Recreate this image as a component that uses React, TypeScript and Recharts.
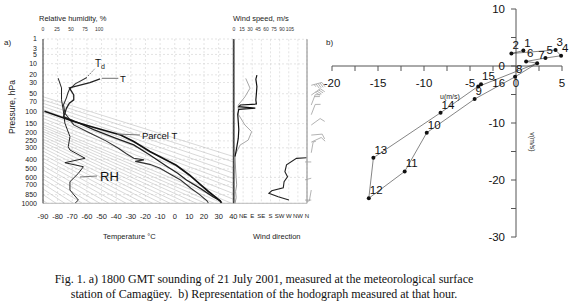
import React from 'react';
import {
  CartesianGrid,
  ComposedChart,
  Line,
  ReferenceLine,
  Scatter,
  XAxis,
  YAxis,
} from 'recharts';

const FONT = '"Liberation Sans", Arial, Helvetica, sans-serif';
const SERIF = '"Liberation Serif", "Times New Roman", serif';

// Stuve-type pressure axis: height ~ p^0.286
const KAPPA = 0.286;
const sOf = (p: number) => Math.pow(p, KAPPA);
const S_TOP = sOf(1);
const S_BOT = sOf(1000);

const pressureTicks = [1, 3, 5, 10, 20, 30, 50, 70, 100, 150, 200, 250, 300, 400, 500, 600, 700, 850, 1000];
const tempTicks = [-90, -80, -70, -60, -50, -40, -30, -20, -10, 0, 10, 20, 30, 40];
const rhTicks = [0, 25, 50, 75, 100];
const speedTicks = [0, 15, 30, 45, 60, 75, 90, 105];
const dirTicks = [45, 90, 135, 180, 225, 270, 315, 360];
const dirLabels = ['NE', 'E', 'SE', 'S', 'SW', 'W', 'NW', 'N'];

// [pressure hPa, temperature °C]
const envTemp = [
  [25, -51], [30, -58], [39, -72], [53, -69], [65, -69], [74, -72], [90, -74], [106, -75],
  [120, -76], [150, -65], [183, -55], [230, -41], [279, -28], [360, -17], [475, -5],
  [550, 2], [634, 8], [760, 18], [885, 26], [955, 31], [1000, 32],
];
const dewPoint = [
  [23, -60], [32, -68], [42, -72], [49, -73], [60, -74], [79, -76], [107, -75], [130, -72],
  [157, -69], [200, -58], [250, -47], [300, -39], [350, -33], [390, -28], [405, -21],
  [420, -27], [450, -17], [492, -10], [560, -3], [634, 4], [750, 11], [850, 17], [955, 22], [1000, 23],
];
const parcelTemp = [
  [100, -89], [141, -69], [170, -55], [212, -37], [254, -28], [330, -17], [460, 1],
  [570, 10], [686, 17], [800, 23], [955, 31], [1000, 32],
];
// [pressure hPa, relative humidity %]
const relHum = [
  [24, 27], [39, 33], [65, 33], [95, 36], [149, 39], [222, 48], [292, 45], [318, 48],
  [390, 75], [433, 39], [475, 72], [550, 63], [657, 48], [777, 48], [942, 63], [1000, 57],
];
// [pressure hPa, wind speed m/s]
const windSpeedUpper = [
  [20, 43], [25, 41], [36, 43], [50, 42], [65, 41], [76, 42], [79, 12], [84, 9], [89, 40],
  [93, 9], [110, 7], [141, 8], [180, 9], [233, 8], [300, 5], [375, 2],
];
const windSpeedLower = [[375, 2], [500, 3], [600, 4], [700, 5], [800, 3], [900, 4], [1000, 2]];
// [pressure hPa, wind direction deg]
const windDirUpper = [
  [24, 58], [39, 79], [57, 54], [79, 21], [110, 21], [157, 54], [192, 87], [244, 70], [279, 30], [360, 5],
];
const windDirLower = [
  [385, 357], [390, 308], [455, 259], [531, 251], [592, 264], [657, 247], [742, 243],
  [788, 186], [829, 172], [885, 218], [942, 271],
];
// barbs: pressure, speed m/s, direction deg
const barbP = [34, 53, 79, 112, 157, 212, 258, 340, 425, 610, 777, 942];
const barbSpd = [43, 42, 21, 8, 8, 10, 8, 5, 3, 4, 4, 2];
const barbDir = [75, 55, 21, 21, 54, 85, 65, 10, 270, 255, 190, 270];

// potential temperatures (K) of the background dry adiabats
const adiabatTheta = [
  186, 192, 198, 204, 210, 216, 222, 228, 234, 240, 246, 252, 258, 264, 270, 276, 282, 288,
  294, 300, 306, 312, 320, 330, 340, 350, 360, 372, 385, 400, 415,
];

// hodograph, m/s
const hodoLabels = ['1', '2', '3', '4', '5', '6', '7', '8', '9', '10', '11', '12', '13', '14', '15', '16'];
const hodoU = [0.8, -0.5, 4.3, 4.9, 3.2, 1.1, 2.3, -0.1, -4.5, -9.7, -12.1, -16.0, -15.5, -8.2, -3.8, -4.1];
const hodoV = [2.7, 2.2, 2.8, 1.8, 1.4, 0.8, 0.5, -1.9, -5.8, -11.7, -18.5, -23.2, -16.1, -8.2, -3.2, -3.6];
const hodoUTicks = [-20, -17.5, -15, -12.5, -10, -7.5, -5, -2.5, 0, 2.5, 5];
const hodoVTicks = [10, 5, 0, -5, -10, -15, -20, -25, -30];

const rows = (list: number[][], key: string) => list.map(([p, v]) => ({ s: sOf(p), [key]: v }));

const tempRows = rows(envTemp, 't');
const dewRows = rows(dewPoint, 't');
const parcelRows = rows(parcelTemp, 't');
const rhRows = rows(relHum, 'rh');
const spdUpRows = rows(windSpeedUpper, 'sp');
const spdLowRows = rows(windSpeedLower, 'sp');
const dirUpRows = rows(windDirUpper, 'dr');
const dirLowRows = rows(windDirLower, 'dr');
const barbRows = barbP.map((p, i) => ({ x: 0.25, s: sOf(p), spd: barbSpd[i], dir: barbDir[i] }));
const sTicks = pressureTicks.map(sOf);

const hodoRows = hodoLabels.map((n, i) => ({ n, u: hodoU[i], v: hodoV[i] }));
const hodoClose = [hodoRows[15], hodoRows[6]];
const uTickRows = hodoUTicks.map((u) => ({ u, v: 0, label: u % 5 === 0 ? String(u) : '' }));
const vTickRows = hodoVTicks.map((v) => ({ u: 0, v, label: v % 10 === 0 ? String(v) : '' }));

const smallTick = { fontSize: 7.5, fill: '#222', fontFamily: FONT };
const tinyTick = { fontSize: 5, fill: '#333', fontFamily: FONT };

function Barb(props: any) {
  const { cx, cy, payload } = props;
  if (cx == null || cy == null) return null;
  const a = (payload.dir * Math.PI) / 180;
  const dx = Math.sin(a);
  const dy = -Math.cos(a);
  const len = 11;
  const tx = cx + dx * len;
  const ty = cy + dy * len;
  const bx = -dy;
  const by = dx;
  const parts: React.ReactNode[] = [];
  let rest = Math.round(payload.spd / 5) * 5;
  let off = 0;
  while (rest >= 10) {
    const sx = tx - dx * off;
    const sy = ty - dy * off;
    parts.push(<line key={off} x1={sx} y1={sy} x2={sx + bx * 5 + dx * 2} y2={sy + by * 5 + dy * 2} />);
    rest -= 10;
    off += 2;
  }
  if (rest >= 5) {
    const sx = tx - dx * off;
    const sy = ty - dy * off;
    parts.push(<line key="h" x1={sx} y1={sy} x2={sx + bx * 2.5 + dx} y2={sy + by * 2.5 + dy} />);
  }
  return (
    <g stroke="#a0a0a0" strokeWidth={0.8}>
      <line x1={cx} y1={cy} x2={tx} y2={ty} />
      {parts}
    </g>
  );
}

function HodoDot(props: any) {
  const { cx, cy, payload } = props;
  if (cx == null || cy == null) return null;
  const late = payload.n === '16';
  return (
    <g>
      <circle cx={cx} cy={cy} r={2} fill="#111" />
      <text x={cx + (late ? 14 : 1)} y={cy + (late ? 0 : -4)} fontSize={11.5} fontFamily={FONT} fill="#111">
        {payload.n}
      </text>
    </g>
  );
}

function UTick(props: any) {
  const { cx, cy, payload } = props;
  if (cx == null || cy == null) return null;
  return (
    <g>
      <line x1={cx} y1={cy} x2={cx} y2={cy + 5} stroke="#555" strokeWidth={1} />
      {payload.label && (
        <text x={cx} y={cy + 21} textAnchor="middle" fontSize={11.5} fontFamily={FONT} fill="#111">
          {payload.label}
        </text>
      )}
    </g>
  );
}

function VTick(props: any) {
  const { cx, cy, payload } = props;
  if (cx == null || cy == null) return null;
  return (
    <g>
      <line x1={cx} y1={cy} x2={cx - 5} y2={cy} stroke="#555" strokeWidth={1} />
      {payload.label && (
        <text x={cx - 11} y={cy + 4} textAnchor="end" fontSize={11.5} fontFamily={FONT} fill="#111">
          {payload.label}
        </text>
      )}
    </g>
  );
}

function SoundingChart() {
  return (
    <ComposedChart width={240} height={230} margin={{ top: 27, right: 6.7, bottom: 6.7, left: 13 }}>
      <CartesianGrid xAxisId="t" stroke="#d2d2d2" strokeDasharray="2 2" strokeWidth={0.6} />
      <XAxis
        xAxisId="t"
        type="number"
        dataKey="t"
        domain={[-90, 40]}
        ticks={tempTicks}
        interval={0}
        height={20}
        tick={smallTick}
        tickLine={false}
        tickMargin={4}
        axisLine={{ stroke: '#bbb' }}
        allowDataOverflow
      />
      <XAxis
        xAxisId="rh"
        orientation="top"
        type="number"
        dataKey="rh"
        domain={[0, 339]}
        ticks={rhTicks}
        interval={0}
        height={12}
        tick={tinyTick}
        tickLine={false}
        axisLine={false}
        allowDataOverflow
      />
      <YAxis
        type="number"
        dataKey="s"
        domain={[S_TOP, S_BOT]}
        reversed
        ticks={sTicks}
        interval={0}
        width={30}
        tick={{ ...smallTick, fontSize: 7 }}
        tickLine={false}
        tickSize={4}
        axisLine={{ stroke: '#333' }}
        tickFormatter={(v: number) => String(Math.round(Math.pow(v, 1 / KAPPA)))}
        allowDataOverflow
      />
      {adiabatTheta.map((th) => (
        <ReferenceLine
          key={th}
          xAxisId="t"
          segment={[
            { x: (th * S_TOP) / S_BOT - 273.15, y: S_TOP },
            { x: th - 273.15, y: S_BOT },
          ]}
          stroke="#bdbdbd"
          strokeWidth={0.6}
          ifOverflow="hidden"
        />
      ))}
      <ReferenceLine xAxisId="t" x={40} stroke="#333" strokeWidth={1} />
      <Line xAxisId="rh" data={rhRows} dataKey="s" stroke="#222" strokeWidth={1} dot={false} isAnimationActive={false} />
      <Line xAxisId="t" data={dewRows} dataKey="s" stroke="#333" strokeWidth={1.1} dot={false} isAnimationActive={false} />
      <Line xAxisId="t" data={tempRows} dataKey="s" stroke="#222" strokeWidth={1.3} dot={false} isAnimationActive={false} />
      <Line xAxisId="t" data={parcelRows} dataKey="s" stroke="#111" strokeWidth={1.7} dot={false} isAnimationActive={false} />
    </ComposedChart>
  );
}

function DirectionChart() {
  return (
    <ComposedChart width={100} height={230} margin={{ top: 39.3, right: 13, bottom: 6.7, left: 14 }}>
      <CartesianGrid stroke="#d2d2d2" strokeDasharray="2 2" strokeWidth={0.6} />
      <XAxis
        type="number"
        dataKey="dr"
        domain={[0, 360]}
        ticks={dirTicks}
        interval={0}
        height={20}
        tick={{ ...smallTick, fontSize: 6 }}
        tickLine={false}
        tickMargin={4}
        axisLine={{ stroke: '#bbb' }}
        tickFormatter={(v: number) => dirLabels[dirTicks.indexOf(v)]}
      />
      <YAxis type="number" dataKey="s" domain={[S_TOP, S_BOT]} reversed ticks={sTicks} hide />
      <ReferenceLine x={0} stroke="#222" strokeWidth={1} />
      <ReferenceLine x={360} stroke="#888" strokeWidth={1} />
      <Line data={dirUpRows} dataKey="s" stroke="#a8a8a8" strokeWidth={1} dot={false} isAnimationActive={false} />
      <Line data={dirLowRows} dataKey="s" stroke="#222" strokeWidth={1.1} dot={false} isAnimationActive={false} />
    </ComposedChart>
  );
}

function SpeedChart() {
  return (
    <ComposedChart width={100} height={230} margin={{ top: 27.3, right: 13, bottom: 26.7, left: 14 }}>
      <XAxis
        orientation="top"
        type="number"
        dataKey="sp"
        domain={[0, 137]}
        ticks={speedTicks}
        interval={0}
        height={12}
        tick={tinyTick}
        tickLine={false}
        axisLine={false}
      />
      <YAxis type="number" dataKey="s" domain={[S_TOP, S_BOT]} reversed hide />
      <Line data={spdLowRows} dataKey="s" stroke="#9a9a9a" strokeWidth={1} dot={false} isAnimationActive={false} />
      <Line data={spdUpRows} dataKey="s" stroke="#111" strokeWidth={1.2} dot={false} isAnimationActive={false} />
    </ComposedChart>
  );
}

function BarbColumn() {
  return (
    <ComposedChart width={25} height={230} margin={{ top: 39.3, right: 0, bottom: 26.7, left: 0 }}>
      <XAxis type="number" dataKey="x" domain={[0, 1]} hide />
      <YAxis type="number" dataKey="s" domain={[S_TOP, S_BOT]} reversed hide />
      <Scatter data={barbRows} shape={Barb} isAnimationActive={false} />
    </ComposedChart>
  );
}

function Hodograph() {
  return (
    <ComposedChart width={270} height={250} margin={{ top: 9, right: 8, bottom: 13, left: 32 }}>
      <XAxis type="number" dataKey="u" domain={[-20, 5]} hide />
      <YAxis type="number" dataKey="v" domain={[-30, 10]} hide />
      <ReferenceLine y={0} stroke="#555" strokeWidth={1} />
      <ReferenceLine x={0} stroke="#555" strokeWidth={1} />
      <Scatter data={uTickRows} shape={UTick} isAnimationActive={false} />
      <Scatter data={vTickRows} shape={VTick} isAnimationActive={false} />
      <Line data={hodoRows} dataKey="v" stroke="#333" strokeWidth={0.6} dot={false} isAnimationActive={false} />
      <Line data={hodoClose} dataKey="v" stroke="#333" strokeWidth={0.6} dot={false} isAnimationActive={false} />
      <Scatter data={hodoRows} shape={HodoDot} isAnimationActive={false} />
    </ComposedChart>
  );
}

export default function App() {
  const abs = (left: number, top: number): React.CSSProperties => ({ position: 'absolute', left, top });
  return (
    <div style={{ position: 'absolute', left: 0, top: 0, width: 570, height: 305, background: '#fff', fontFamily: FONT }}>
      <div style={abs(0, 0)}>
        <SoundingChart />
      </div>
      <div style={abs(220, 0)}>
        <DirectionChart />
      </div>
      <div style={abs(220, 0)}>
        <SpeedChart />
      </div>
      <div style={abs(305, 0)}>
        <BarbColumn />
      </div>
      <div style={abs(300, 0)}>
        <Hodograph />
      </div>
      <svg width={570} height={305} style={{ position: 'absolute', left: 0, top: 0, pointerEvents: 'none' }} fontFamily={FONT}>
        <text x={39} y={21} fontSize={7.5} fill="#222">Relative humidity, %</text>
        <text x={233} y={21} fontSize={7.5} fill="#222">Wind speed, m/s</text>
        <text x={4} y={45} fontSize={8} fill="#222">a)</text>
        <text x={15} y={107} fontSize={8.5} fill="#222" textAnchor="middle" transform="rotate(-90 15 107)">
          Pressure, hPa
        </text>
        <text x={103} y={239} fontSize={7.5} fill="#222">Temperature °C</text>
        <text x={253} y={239} fontSize={7.5} fill="#222">Wind direction</text>
        <line x1={88} y1={76} x2={95} y2={68.5} stroke="#333" strokeWidth={0.7} strokeDasharray="1.5 1" />
        <text x={95} y={67} fontSize={10} fill="#111">
          T<tspan fontSize={7} dy={2}>d</tspan>
        </text>
        <line x1={101.7} y1={78.3} x2={118.3} y2={78.3} stroke="#333" strokeWidth={0.7} />
        <text x={120} y={81.5} fontSize={9.5} fill="#111">T</text>
        <line x1={117} y1={134} x2={140} y2={135} stroke="#777" strokeWidth={1} />
        <text x={142} y={138.5} fontSize={9.5} fill="#111">Parcel T</text>
        <line x1={80} y1={177} x2={97} y2={176} stroke="#777" strokeWidth={1} />
        <text x={100} y={181} fontSize={13} fill="#111">RH</text>
        <text x={326} y={45} fontSize={8} fill="#222">b)</text>
        <text x={440} y={99} fontSize={7} fill="#222">u(m/s)</text>
        <text x={530} y={142} fontSize={7} fill="#222" textAnchor="middle" transform="rotate(90 530 142)">
          v(m/s)
        </text>
      </svg>
      <div
        style={{
          position: 'absolute',
          left: 0,
          top: 272,
          width: 528,
          textAlign: 'center',
          fontFamily: SERIF,
          fontSize: 12,
          lineHeight: '14.6px',
          color: '#111',
        }}
      >
        Fig. 1. a) 1800 GMT sounding of 21 July 2001, measured at the meteorological surface
        <br />
        station of Camagüey.&nbsp; b) Representation of the hodograph measured at that hour.
      </div>
    </div>
  );
}
